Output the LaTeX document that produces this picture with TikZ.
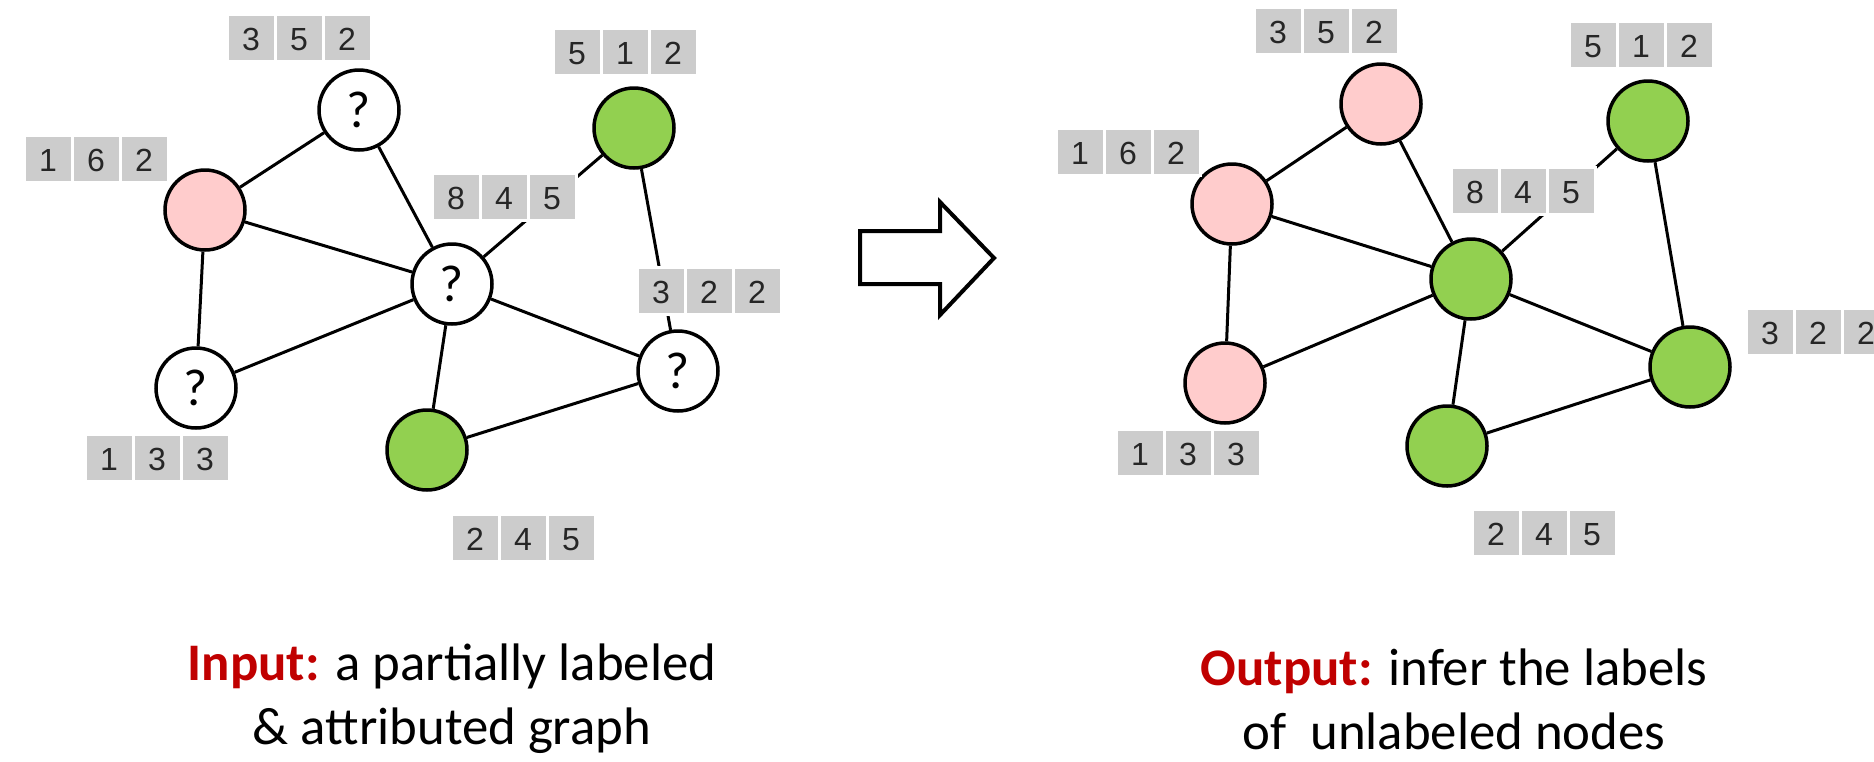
\documentclass[tikz,border=0pt]{standalone}
\usepackage{fontspec}
\setmainfont{Carlito}
\newfontfamily\digitfont{Liberation Sans}
\definecolor{nodepink}{HTML}{FFCCCC}
\definecolor{nodegreen}{HTML}{92D050}
\definecolor{cellgrey}{HTML}{CCCCCC}
\definecolor{capred}{HTML}{C00000}
\setlength{\fboxsep}{0pt}
\newcommand{\cell}[1]{\colorbox{cellgrey}{\makebox[22.5pt]{\rule[-5pt]{0pt}{22pt}#1}}}
\newcommand{\attrs}[3]{\cell{#1}\hspace{1.5pt}\cell{#2}\hspace{1.5pt}\cell{#3}}

\begin{document}
\begin{tikzpicture}[x=0.5pt, y=-0.5pt,
  vert/.style={circle, draw, line width=1.75pt, minimum size=40pt, inner sep=0pt,
    font=\fontsize{26}{30}\selectfont},
  unk/.style={vert, fill=white},
  pinkv/.style={vert, fill=nodepink},
  greenv/.style={vert, fill=nodegreen},
  attr/.style={fill=white, inner sep=1.5pt, text=black!85,
    font=\digitfont\fontsize{16}{18}\selectfont},
  edge/.style={line width=1.5pt},
  caption/.style={align=center, font=\fontsize{26.4}{32}\selectfont}]
\useasboundingbox (0,0) rectangle (1874,761);
\node[unk] (u352) at (359,110) {?};
\node[pinkv] (u162) at (205,210) {};
\node[unk] (u845) at (452,284) {?};
\node[unk] (u133) at (196,388) {?};
\node[greenv] (u245) at (427,450) {};
\node[unk] (u322) at (678,371) {?};
\node[greenv] (u512) at (634,128) {};
\node[pinkv] (v352) at (1381,104) {};
\node[pinkv] (v162) at (1232,204) {};
\node[greenv] (v845) at (1471,279) {};
\node[pinkv] (v133) at (1225,383) {};
\node[greenv] (v245) at (1447,446) {};
\node[greenv] (v322) at (1690,367) {};
\node[greenv] (v512) at (1648,121) {};
\foreach \g in {u,v}
  \foreach \a/\b in {162/352, 162/845, 162/133, 352/845, 845/512, 845/133,
                     845/245, 845/322, 512/322, 245/322}
    \draw[edge] (\g\a) -- (\g\b);
\node[attr] (ua352) at (299,38) {\attrs{3}{5}{2}};
\node[attr] (ua512) at (625,52) {\attrs{5}{1}{2}};
\node[attr] (ua162) at (96,159) {\attrs{1}{6}{2}};
\node[attr] (ua845) at (504,197) {\attrs{8}{4}{5}};
\node[attr] (ua322) at (709,291) {\attrs{3}{2}{2}};
\node[attr] (ua133) at (157,458) {\attrs{1}{3}{3}};
\node[attr] (ua245) at (523,538) {\attrs{2}{4}{5}};
\node[attr] (va352) at (1326,31) {\attrs{3}{5}{2}};
\node[attr] (va512) at (1641,45) {\attrs{5}{1}{2}};
\node[attr] (va162) at (1128,152) {\attrs{1}{6}{2}};
\node[attr] (va845) at (1523,191) {\attrs{8}{4}{5}};
\node[attr] (va322) at (1818,332) {\attrs{3}{2}{2}};
\node[attr] (va133) at (1188,453) {\attrs{1}{3}{3}};
\node[attr] (va245) at (1544,533) {\attrs{2}{4}{5}};
\draw[line width=2pt, fill=white] (860,231) -- (940,231) -- (940,202) -- (994,258)
  -- (940,315) -- (940,284) -- (860,284) -- cycle;
\node[caption] (incap) at (452,699)
  {\textcolor{capred}{\textbf{Input:}} a partially labeled\\\& attributed graph};
\node[caption] (outcap) at (1454,699)
  {\textcolor{capred}{\textbf{Output:}} infer the labels\\of~ unlabeled nodes};
\end{tikzpicture}
\end{document}
